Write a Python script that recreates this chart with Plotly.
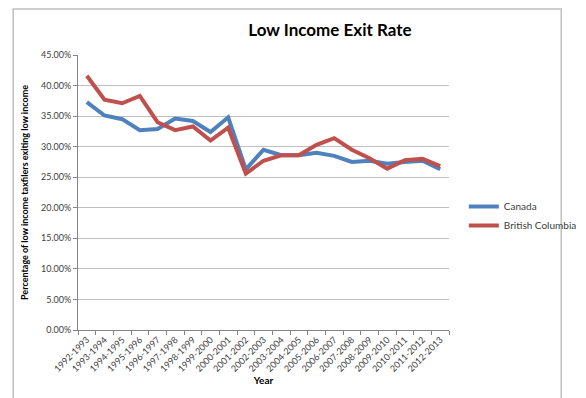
import plotly.graph_objects as go

years = ["1992-1993", "1993-1994", "1994-1995", "1995-1996", "1996-1997", "1997-1998",
         "1998-1999", "1999-2000", "2000-2001", "2001-2002", "2002-2003", "2003-2004",
         "2004-2005", "2005-2006", "2006-2007", "2007-2008", "2008-2009", "2009-2010",
         "2010-2011", "2011-2012", "2012-2013"]
canada = [0.373, 0.351, 0.345, 0.327, 0.329, 0.346, 0.342, 0.324, 0.348, 0.263, 0.295,
          0.286, 0.286, 0.290, 0.285, 0.275, 0.277, 0.272, 0.275, 0.277, 0.263]
bc = [0.416, 0.377, 0.371, 0.383, 0.340, 0.327, 0.333, 0.310, 0.331, 0.256, 0.277,
      0.286, 0.286, 0.303, 0.314, 0.295, 0.281, 0.264, 0.278, 0.280, 0.268]
y_ticks = [0, 0.05, 0.10, 0.15, 0.20, 0.25, 0.30, 0.35, 0.40, 0.45]

FONT = "Lato, 'Open Sans', sans-serif"

fig = go.Figure()
fig.add_trace(go.Scatter(x=years, y=canada, mode="lines", name="Canada",
                         line=dict(color="#4F81BD", width=4)))
fig.add_trace(go.Scatter(x=years, y=bc, mode="lines", name="British Columbia",
                         line=dict(color="#C0504D", width=4)))

fig.update_layout(
    width=586, height=398,
    margin=dict(l=70, r=121, t=47, b=76),
    paper_bgcolor="white", plot_bgcolor="white",
    font=dict(family=FONT, color="#404040"),
    title=dict(text="<b>Low Income Exit Rate</b>", x=(322 / 586), xanchor="center",
               y=1 - 22 / 398, yanchor="middle",
               font=dict(size=17, color="black", family=FONT)),
    showlegend=True,
    legend=dict(x=1.04, y=0.415, xanchor="left", yanchor="middle",
                font=dict(size=10, color="#404040", family=FONT),
                itemwidth=30, tracegroupgap=0, bgcolor="rgba(0,0,0,0)"),
    xaxis=dict(
        type="category", tickson="boundaries", ticks="outside", ticklen=4,
        tickcolor="#868686", showline=True, linecolor="#868686", linewidth=1,
        tickangle=-45, tickfont=dict(size=9, color="#404040"),
        showgrid=False, range=[-0.5, len(years) - 0.5],
        title=dict(text="<b>Year</b>", font=dict(size=10, color="black"), standoff=4),
    ),
    yaxis=dict(
        range=[0, 0.45], tickvals=y_ticks, tickformat=".2%",
        ticks="outside", ticklen=4, tickcolor="#868686",
        showline=True, linecolor="#868686", linewidth=1,
        showgrid=True, gridcolor="#BFBFBF", gridwidth=1, zeroline=False,
        tickfont=dict(size=9, color="#404040"),
        title=dict(text="<b>Percentage of low income taxfilers exiting low income</b>",
                   font=dict(size=9, color="black"), standoff=10),
    ),
    shapes=[dict(type="rect", xref="paper", yref="paper",
                 x0=(1 - 70) / 395, x1=(584.5 - 70) / 395,
                 y0=(322 - 396.5) / 275, y1=(322 - 1) / 275,
                 line=dict(color="#BFBFBF", width=1.5), layer="below")],
)

fig.write_html("out.html")
